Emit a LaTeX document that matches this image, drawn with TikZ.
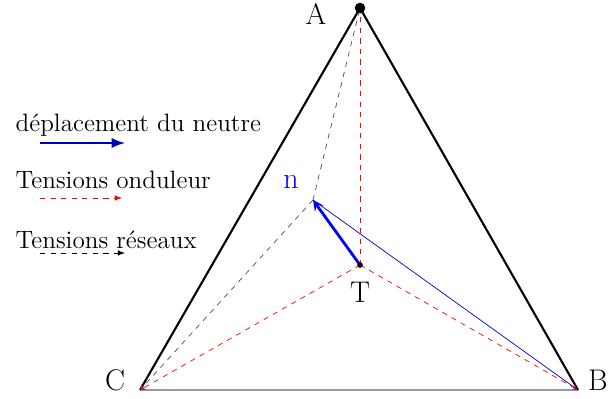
\documentclass[tikz,border=0pt]{standalone}
\usepackage{fontspec}
\usepackage{tikz}

\begin{document}
\begin{tikzpicture}[>=stealth, thick]
    \tikzstyle{vlabel}=[font=\fontsize{17}{19}\selectfont, inner sep=1pt]
    \tikzstyle{legtext}=[font=\fontsize{14.3}{16}\selectfont, anchor=west, inner sep=0pt]
    \tikzstyle{onduleur}=[red, dashed, thin]
    \tikzstyle{reseau}=[black!70, dashed, thin]
    \useasboundingbox (0,0) rectangle (12.28,7.96);
    % sommets et points
    \coordinate (A) at (7.2,7.8);
    \coordinate (B) at (11.56,0.16);
    \coordinate (C) at (2.8,0.16);
    \coordinate (T) at (7.2,2.66);
    \coordinate (n) at (6.26,3.96);
    \node[vlabel] (labA) at (6.32,7.68) {A};
    \node[vlabel] (labB) at (11.96,0.36) {B};
    \node[vlabel] (labC) at (2.3,0.36) {C};
    \node[vlabel] (labT) at (7.2,2.12) {T};
    \node[vlabel, blue] (labn) at (5.82,4.32) {n};
    % triangle
    \draw[gray!80, line width=1.4pt] (C) -- (B);
    \draw[line width=1.2pt] (C) -- (A) -- (B);
    % tensions onduleur
    \draw[onduleur, ->] (T) -- (A); \draw[onduleur, ->] (T) -- (B); \draw[onduleur, ->] (T) -- (C);
    % tensions reseaux
    \draw[reseau, ->] (n) -- (A); \draw[reseau, ->] (n) -- (C);
    \draw[blue!80!black, thin] (B) -- (n);
    % deplacement du neutre
    \draw[blue, line width=1.6pt, ->] (T) -- (n);
    \fill (T) circle (1.6pt);
    \fill (A) circle (3pt);
    % legende
    \node[legtext] (leg1) at (0.3,5.46) {déplacement du neutre};
    \coordinate (l1a) at (0.8,5.1); \coordinate (l1b) at (2.5,5.1);
    \draw[blue!70!black, line width=1.6pt, -latex] (l1a) -- (l1b);
    \node[legtext] (leg2) at (0.3,4.36) {Tensions onduleur};
    \coordinate (l2a) at (0.8,4.0); \coordinate (l2b) at (2.44,4.0);
    \draw[onduleur, -latex] (l2a) -- (l2b);
    \node[legtext] (leg3) at (0.3,3.16) {Tensions réseaux};
    \coordinate (l3a) at (0.8,2.9); \coordinate (l3b) at (2.5,2.9);
    \draw[black, dashed, thin, -latex] (l3a) -- (l3b);
\end{tikzpicture}
\end{document}
